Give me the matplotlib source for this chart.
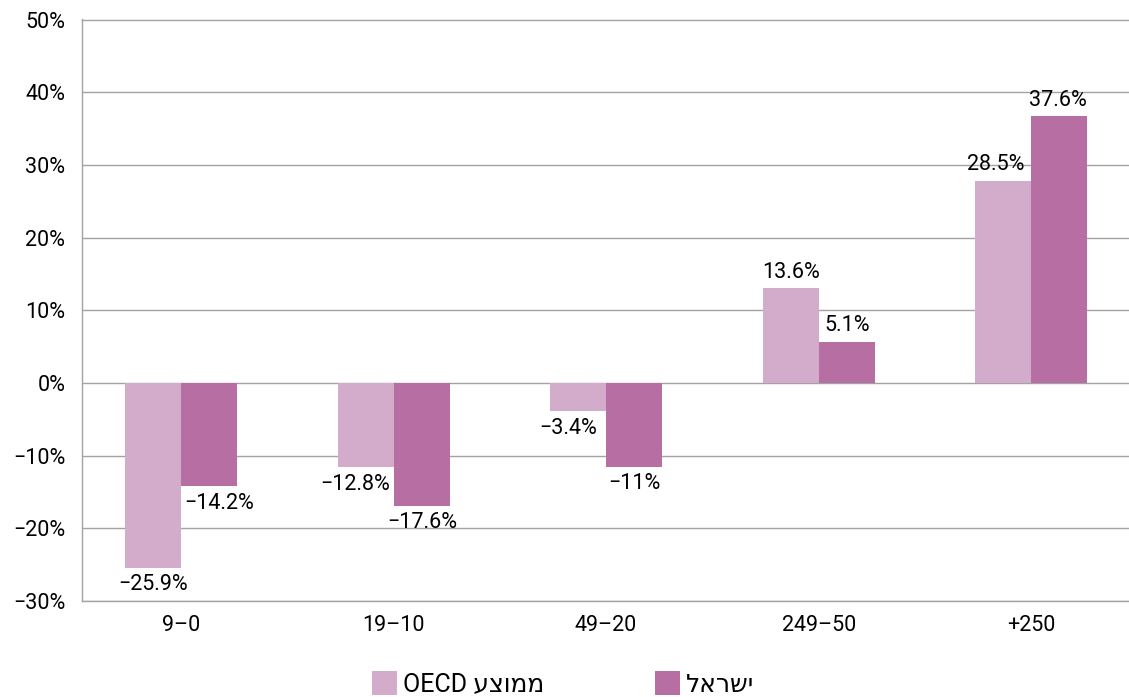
import matplotlib
matplotlib.use("Agg")
import matplotlib.pyplot as plt
import numpy as np
from matplotlib.patches import Patch

# ---- data ----
categories = ["9–0", "19–10", "49–20", "249–50", "+250"]
oecd_values = [-25.4, -11.6, -3.9, 13.0, 27.8]      # bar heights as drawn
israel_values = [-14.2, -16.9, -11.5, 5.7, 36.7]     # bar heights as drawn
oecd_labels = ["−25.9%", "−12.8%", "−3.4%", "13.6%", "28.5%"]
israel_labels = ["−14.2%", "−17.6%", "−11%", "5.1%", "37.6%"]
yticks = [-30, -20, -10, 0, 10, 20, 30, 40, 50]
legend_labels = ["OECD " + "ממוצע"[::-1], "ישראל"[::-1]]

# ---- style ----
c_oecd = "#D4ACCB"
c_isr = "#B76EA2"
grid_c = "#A3A3A3"
fam = ["Roboto", "DejaVu Sans"]
fs = 15.5
fs_leg = 18
plt.rcParams["font.family"] = fam

W, H = 1129, 697
fig = plt.figure(figsize=(W / 100, H / 100), dpi=100)
ax = fig.add_axes([82 / W, 1 - 601 / H, 1 - 82 / W, (601 - 19.5) / H])

x = np.arange(len(categories))
bw = 0.2635
ax.bar(x - bw / 2, oecd_values, bw, color=c_oecd, zorder=3)
ax.bar(x + bw / 2, israel_values, bw, color=c_isr, zorder=3)

ax.set_xlim(-0.4658, 4.460)
ax.set_ylim(-30, 50)
ax.set_yticks(yticks)
ax.set_yticklabels([f"{v}%".replace("-", "−") for v in yticks], fontsize=fs)
ax.set_xticks(x)
ax.set_xticklabels(categories, fontsize=fs)
ax.tick_params(axis="both", length=0)
ax.tick_params(axis="y", pad=12)
ax.tick_params(axis="x", pad=10)

ax.grid(axis="y", color=grid_c, linewidth=1.0, zorder=0)
ax.spines["right"].set_visible(False)
for s in ["left", "bottom", "top"]:
    ax.spines[s].set_color(grid_c)
    ax.spines[s].set_linewidth(1.0)

# label x offsets in pixels (mimicking original placement)
oecd_dx = [0, -10, -10, 0, -8]
isr_dx = [10, 1, 0, 0, -1]
px2pt = 72 / 100
for i in range(len(categories)):
    for val, lab, dx, sgn in [(oecd_values[i], oecd_labels[i], oecd_dx[i], -1),
                               (israel_values[i], israel_labels[i], isr_dx[i], 1)]:
        xc = x[i] + sgn * bw / 2
        dy = 16 if val >= 0 else -17
        ax.annotate(lab, (xc, val), xytext=(dx * px2pt, dy * px2pt),
                    textcoords="offset points", ha="center", va="center",
                    fontsize=fs, color="black", zorder=4)

# legend: two single-entry legends placed like the original
for col, lab, x0 in [(c_oecd, legend_labels[0], 372), (c_isr, legend_labels[1], 655)]:
    fig.legend([Patch(facecolor=col)], [lab], loc="upper left",
               bbox_to_anchor=(x0 / W, 1 - 671 / H), frameon=False,
               borderpad=0, borderaxespad=0,
               handlelength=0.98, handleheight=1.1, handletextpad=0.25,
               prop={"family": fam, "size": fs_leg})

fig.savefig("out.png", dpi=100)
